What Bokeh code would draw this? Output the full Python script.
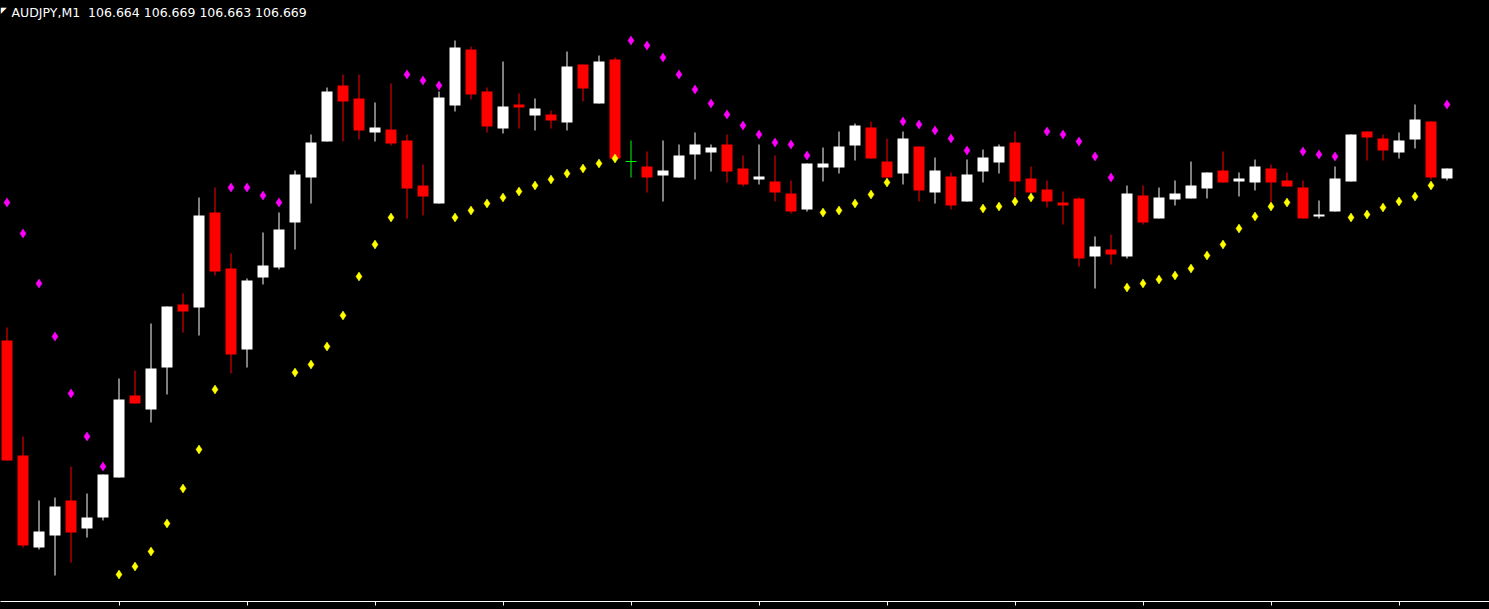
from bokeh.plotting import figure
from bokeh.models import Range1d, FixedTicker, Label, ColumnDataSource, GlobalInlineStyleSheet
from bokeh.embed import file_html
from bokeh.resources import INLINE

symbol = "AUDJPY,M1"

open_ = [106.583, 106.5255, 106.4795, 106.4855, 106.503, 106.489, 106.4945, 106.5145, 106.5555, 106.5485,
         106.5695, 106.601, 106.5995, 106.647, 106.619, 106.5785, 106.6145, 106.6195, 106.642, 106.6645,
         106.6825, 106.7105, 106.704, 106.687, 106.6885, 106.683, 106.6605, 106.6515, 106.7005, 106.7285,
         106.7075, 106.689, 106.701, 106.6955, 106.696, 106.692, 106.721, 106.7015, 106.7235, 106.6725,
         106.670, 106.6655, 106.6645, 106.676, 106.677, 106.681, 106.669, 106.6635, 106.6625, 106.6565,
         106.6485, 106.6695, 106.6695, 106.6805, 106.6895, 106.6725, 106.6665, 106.680, 106.657, 106.665,
         106.6525, 106.6675, 106.672, 106.682, 106.664, 106.6585, 106.652, 106.654, 106.625, 106.6285,
         106.625, 106.6555, 106.644, 106.6535, 106.654, 106.659, 106.668, 106.6625, 106.662, 106.669,
         106.663, 106.6595, 106.645, 106.6475, 106.6625, 106.6875, 106.684, 106.677, 106.6835, 106.6925,
         106.664]
high = [106.5895, 106.535, 106.503, 106.5045, 106.520, 106.5065, 106.516, 106.564, 106.568, 106.5915,
        106.600, 106.6065, 106.6545, 106.6595, 106.6265, 106.614, 106.637, 106.647, 106.668, 106.686,
        106.7095, 106.716, 106.716, 106.702, 106.7115, 106.686, 106.671, 106.7075, 106.733, 106.730,
        106.7095, 106.7225, 106.7065, 106.704, 106.698, 106.7275, 106.721, 106.7255, 106.7245, 106.683,
        106.6775, 106.683, 106.681, 106.687, 106.681, 106.686, 106.6755, 106.681, 106.6755, 106.663,
        106.6715, 106.6795, 106.6875, 106.6915, 106.6925, 106.684, 106.6875, 106.680, 106.6745, 106.667,
        106.6735, 106.6785, 106.681, 106.6875, 106.670, 106.663, 106.6575, 106.6545, 106.635, 106.636,
        106.6605, 106.6605, 106.6595, 106.663, 106.6725, 106.667, 106.6775, 106.667, 106.6735, 106.671,
        106.667, 106.663, 106.653, 106.670, 106.686, 106.6875, 106.686, 106.687, 106.701, 106.6925,
        106.669]
low = [106.523, 106.4795, 106.4785, 106.4655, 106.472, 106.4845, 106.493, 106.5145, 106.5515, 106.542,
       106.556, 106.587, 106.5855, 106.6155, 106.5665, 106.5695, 106.611, 106.6185, 106.6285, 106.6515,
       106.6825, 106.6825, 106.6835, 106.6825, 106.6805, 106.644, 106.6455, 106.6515, 106.6975, 106.7035,
       106.687, 106.6865, 106.689, 106.688, 106.689, 106.688, 106.7025, 106.7015, 106.674, 106.6645,
       106.657, 106.6525, 106.6645, 106.6635, 106.6675, 106.662, 106.660, 106.661, 106.6525, 106.6465,
       106.6475, 106.6625, 106.6665, 106.673, 106.674, 106.6645, 106.661, 106.6525, 106.6515, 106.6485,
       106.6525, 106.662, 106.6665, 106.655, 106.6565, 106.6495, 106.641, 106.620, 106.609, 106.621,
       106.624, 106.641, 106.644, 106.6505, 106.654, 106.654, 106.662, 106.655, 106.658, 106.652,
       106.660, 106.644, 106.644, 106.6475, 106.6625, 106.673, 106.673, 106.674, 106.679, 106.6635,
       106.663]
close = [106.523, 106.4805, 106.4875, 106.500, 106.487, 106.4945, 106.516, 106.5535, 106.5515, 106.569,
         106.600, 106.5975, 106.6455, 106.6175, 106.576, 106.613, 106.6205, 106.6385, 106.666, 106.682,
         106.7075, 106.7025, 106.688, 106.6895, 106.6815, 106.659, 106.655, 106.7045, 106.7295, 106.706,
         106.690, 106.700, 106.6995, 106.699, 106.693, 106.720, 106.709, 106.7225, 106.674, 106.6725,
         106.6645, 106.668, 106.6755, 106.681, 106.6795, 106.6675, 106.661, 106.665, 106.657, 106.6475,
         106.6715, 106.6715, 106.680, 106.6905, 106.674, 106.6645, 106.684, 106.658, 106.668, 106.6505,
         106.666, 106.6745, 106.680, 106.6625, 106.657, 106.6525, 106.6505, 106.624, 106.630, 106.626,
         106.6565, 106.642, 106.6545, 106.6565, 106.6605, 106.667, 106.662, 106.664, 106.670, 106.662,
         106.660, 106.644, 106.646, 106.664, 106.686, 106.6845, 106.678, 106.683, 106.6935, 106.6645,
         106.669]
sar = [106.652, 106.6365, 106.6115, 106.585, 106.5565, 106.535, 106.520,
       106.466, 106.470, 106.4775, 106.4915, 106.509, 106.5285, 106.5585,
       106.6595, 106.6595, 106.6555, 106.652,
       106.567, 106.571, 106.580, 106.5955, 106.615, 106.631, 106.6445,
       106.716, 106.713, 106.7105,
       106.6445, 106.648, 106.6515, 106.6545, 106.6575, 106.6605, 106.6635, 106.6665, 106.669, 106.6715, 106.674,
       106.733, 106.7305, 106.7245, 106.716, 106.7085, 106.7015, 106.696, 106.6905, 106.686, 106.682, 106.681, 106.6755,
       106.647, 106.648, 106.6515, 106.656, 106.662,
       106.6925, 106.691, 106.688, 106.684, 106.678,
       106.649, 106.650, 106.6525, 106.6545,
       106.6875, 106.686, 106.6825, 106.675, 106.6645,
       106.6095, 106.6115, 106.6135, 106.6155, 106.619, 106.6255, 106.631, 106.639, 106.645, 106.650, 106.652,
       106.6775, 106.676, 106.675,
       106.6445, 106.646, 106.6495, 106.6525, 106.655, 106.6605,
       106.701]
time_ticks = [7, 15, 23, 31, 39, 47, 55, 63, 71, 79, 87]

bars = list(range(len(open_)))

UP, DOWN, DOJI = "#FFFFFF", "#FF0000", "#00FF00"
colors = []
for o, c in zip(open_, close):
    if abs(c - o) < 1e-9:
        colors.append(DOJI)
    elif c > o:
        colors.append(UP)
    else:
        colors.append(DOWN)

src = ColumnDataSource(dict(
    x=bars, o=open_, h=high, l=low, c=close,
    top=[max(a, b) for a, b in zip(open_, close)],
    bottom=[min(a, b) for a, b in zip(open_, close)],
    color=colors,
))

doji_x = [i for i in bars if colors[i] == DOJI]
doji_y = [open_[i] for i in doji_x]
doji_src = ColumnDataSource(dict(x0=[i - 0.34 for i in doji_x], x1=[i + 0.34 for i in doji_x], y=doji_y))

sar_color = ["#FF00FF" if s > c else "#FFFF00" for s, c in zip(sar, close)]
sar_src = ColumnDataSource(dict(x=bars, y=sar, color=sar_color))

FW, FH = 1489, 601
px_per_bar = 16.0
x0 = -6.5 / px_per_bar
y_top = 106.753
px_per_price = 2000.0

p = figure(frame_width=FW, frame_height=FH, output_backend="svg", toolbar_location=None,
           x_range=Range1d(x0, x0 + FW / px_per_bar),
           y_range=Range1d(y_top - FH / px_per_price, y_top),
           min_border_left=0, min_border_right=0, min_border_top=0, min_border_bottom=8)
p.background_fill_color = "#000000"
p.border_fill_color = "#000000"
p.outline_line_color = None
p.xgrid.visible = False
p.ygrid.visible = False
p.yaxis.visible = False

xa = p.xaxis[0]
xa.ticker = FixedTicker(ticks=[], minor_ticks=time_ticks)
xa.axis_line_color = "#FFFFFF"
xa.major_tick_line_color = None
xa.minor_tick_line_color = "#FFFFFF"
xa.minor_tick_in = 0
xa.minor_tick_out = 4

p.segment(x0="x", y0="l", x1="x", y1="h", color="color", line_width=1, source=src)
p.vbar(x="x", width=11 / px_per_bar, top="top", bottom="bottom", fill_color="color",
       line_color=None, source=src)
p.segment(x0="x0", y0="y", x1="x1", y1="y", color=DOJI, line_width=1, source=doji_src)

p.scatter(x="x", y="y", marker="diamond", size=9, fill_color="color", line_color="color",
          line_width=0.5, source=sar_src)

gap = "\u00a0\u00a0"
title = f"{symbol}{gap}{open_[-1]:.3f} {high[-1]:.3f} {low[-1]:.3f} {close[-1]:.3f}"
p.add_layout(Label(x=11, y=FH - 12, x_units="screen", y_units="screen", text=title,
                   text_color="#FFFFFF", text_font="DejaVu Sans", text_font_size="12.5px",
                   text_baseline="alphabetic"))
p.add_layout(Label(x=0, y=FH - 10, x_units="screen", y_units="screen", text="\u25E4",
                   text_color="#FFFFFF", text_font="DejaVu Sans", text_font_size="8px",
                   text_baseline="alphabetic"))

p.stylesheets = [GlobalInlineStyleSheet(css="html, body { margin: 0; padding: 0; background: #000000; }")]

open("out.html", "w").write(file_html(p, INLINE))
